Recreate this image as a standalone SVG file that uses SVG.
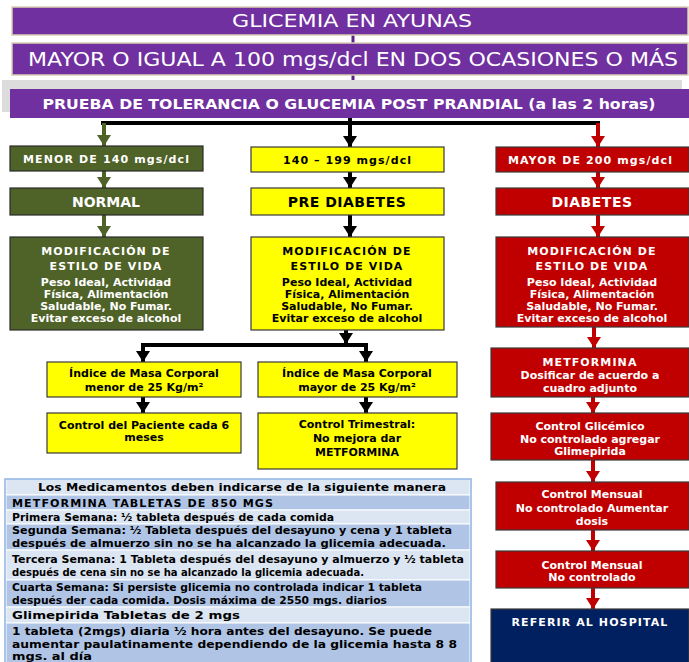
<svg xmlns="http://www.w3.org/2000/svg" width="689" height="662" viewBox="0 0 689 662">
<defs>
<style>
.bar{fill:#7030a0;stroke:#d9d0b4;stroke-width:1.5}
.g{fill:#4f6228;stroke:#2b2b2b;stroke-width:1.2}
.y{fill:#ffff00;stroke:#3a3a3a;stroke-width:1.2}
.r{fill:#c00000;stroke:#3a3a3a;stroke-width:1.2}
.n{fill:#002060;stroke:#3a3a3a;stroke-width:1.2}
text{font-family:"DejaVu Sans","Verdana",sans-serif;text-anchor:middle}
.w{fill:#ffffff}
.k{fill:#000000}
.b{font-weight:bold}
.s{font-size:11px;font-weight:bold}
.h{font-size:11px;font-weight:bold;letter-spacing:1.1px}
.t{font-size:10.5px;font-weight:bold;fill:#000;text-anchor:start}
.lt{fill:#dce6f2;stroke:#ffffff;stroke-width:1}
.md{fill:#b0c5e6;stroke:#ffffff;stroke-width:1}
.cg{stroke:#4f6228;stroke-width:4;fill:none}
.ck{stroke:#000000;stroke-width:4;fill:none}
.cr{stroke:#c00000;stroke-width:4;fill:none}
.cp{stroke:#5b2386;stroke-width:3;fill:none}
</style>
<marker id="ag" viewBox="0 0 11 14" refX="11" refY="7" markerWidth="11" markerHeight="14" markerUnits="userSpaceOnUse" orient="auto"><path d="M0,0 L11,7 L0,14 z" fill="#4f6228"/></marker>
<marker id="ak" viewBox="0 0 11 14" refX="11" refY="7" markerWidth="11" markerHeight="14" markerUnits="userSpaceOnUse" orient="auto"><path d="M0,0 L11,7 L0,14 z" fill="#000000"/></marker>
<marker id="ar" viewBox="0 0 11 14" refX="11" refY="7" markerWidth="11" markerHeight="14" markerUnits="userSpaceOnUse" orient="auto"><path d="M0,0 L11,7 L0,14 z" fill="#c00000"/></marker>
</defs>
<rect width="689" height="662" fill="#ffffff"/>

<g id="connectors">
<path class="cp" d="M353,35 V43"/>
<path class="cp" d="M353,75 V89"/>
<path class="ck" d="M350,118 V123 M101,123 H600"/>
<path class="cg" d="M104,123 V146" marker-end="url(#ag)"/>
<path class="ck" d="M350,123 V147" marker-end="url(#ak)"/>
<path class="cr" d="M598,123 V147" marker-end="url(#ar)"/>
<path class="cg" d="M104,171 V188" marker-end="url(#ag)"/>
<path class="ck" d="M350,172 V188" marker-end="url(#ak)"/>
<path class="cr" d="M598,172 V188" marker-end="url(#ar)"/>
<path class="cg" d="M104,215 V237" marker-end="url(#ag)"/>
<path class="ck" d="M350,215 V237" marker-end="url(#ak)"/>
<path class="cr" d="M598,215 V237" marker-end="url(#ar)"/>
<path class="ck" d="M346,330 V344" marker-end="url(#ak)"/>
<path class="ck" d="M141,345 H368"/>
<path class="ck" d="M143,345 V362" marker-end="url(#ak)"/>
<path class="ck" d="M366,345 V362" marker-end="url(#ak)"/>
<path class="ck" d="M143,397 V413" marker-end="url(#ak)"/>
<path class="ck" d="M366,397 V413" marker-end="url(#ak)"/>
<path class="cr" d="M594,327 V348" marker-end="url(#ar)"/>
<path class="cr" d="M593,397 V413" marker-end="url(#ar)"/>
<path class="cr" d="M593,460 V482" marker-end="url(#ar)"/>
<path class="cr" d="M593,530 V551" marker-end="url(#ar)"/>
<path class="cr" d="M593,588 V609" marker-end="url(#ar)"/>
</g>

<g id="glicemia-ayunas">
<rect class="bar" x="12" y="7" width="676" height="28"/>
<text class="w" x="352" y="27" font-size="17" textLength="240" lengthAdjust="spacingAndGlyphs">GLICEMIA EN AYUNAS</text>
</g>
<g id="mayor-igual-100">
<rect class="bar" x="12" y="43" width="676" height="32"/>
<text class="w" x="353" y="66" font-size="20" textLength="650" lengthAdjust="spacingAndGlyphs">MAYOR O IGUAL A 100 mgs/dcl EN DOS OCASIONES O MÁS</text>
</g>
<g id="prueba-tolerancia">
<rect x="2" y="80" width="680" height="32" fill="#dcdcdc"/>
<rect x="10" y="89" width="679" height="29" fill="#7030a0"/>
<text class="w b" x="349" y="109" font-size="14" textLength="613" lengthAdjust="spacingAndGlyphs">PRUEBA DE TOLERANCIA O GLUCEMIA POST PRANDIAL (a las 2 horas)</text>
</g>

<g id="menor-140">
<rect class="g" x="10" y="146" width="193" height="25"/>
<text class="w s" x="106" y="163" textLength="166" lengthAdjust="spacing">MENOR DE 140 mgs/dcl</text>
</g>
<g id="rango-140-199">
<rect class="y" x="251" y="147" width="193" height="25"/>
<text class="k s" x="347" y="164" textLength="128" lengthAdjust="spacing">140 – 199 mgs/dcl</text>
</g>
<g id="mayor-200">
<rect class="r" x="496" y="147" width="193" height="25"/>
<text class="w s" x="590" y="164" textLength="164" lengthAdjust="spacing">MAYOR DE 200 mgs/dcl</text>
</g>

<g id="normal">
<rect class="g" x="10" y="188" width="193" height="27"/>
<text class="w b" x="106" y="207" font-size="14">NORMAL</text>
</g>
<g id="pre-diabetes">
<rect class="y" x="251" y="188" width="193" height="27"/>
<text class="k b" x="347" y="207" font-size="14" letter-spacing="0.5">PRE DIABETES</text>
</g>
<g id="diabetes">
<rect class="r" x="496" y="188" width="193" height="27"/>
<text class="w b" x="592" y="207" font-size="14" letter-spacing="0.5">DIABETES</text>
</g>

<g id="estilo-vida-normal">
<rect class="g" x="10" y="237" width="193" height="93"/>
<text class="w h" x="106" y="255">MODIFICACIÓN DE</text>
<text class="w h" x="106" y="270">ESTILO DE VIDA</text>
<text class="w s" x="106" y="286">Peso Ideal, Actividad</text>
<text class="w s" x="106" y="298">Física, Alimentación</text>
<text class="w s" x="106" y="310">Saludable, No Fumar.</text>
<text class="w s" x="106" y="322">Evitar exceso de alcohol</text>
</g>
<g id="estilo-vida-pre">
<rect class="y" x="251" y="237" width="193" height="93"/>
<text class="k h" x="347" y="255">MODIFICACIÓN DE</text>
<text class="k h" x="347" y="270">ESTILO DE VIDA</text>
<text class="k s" x="347" y="286">Peso Ideal, Actividad</text>
<text class="k s" x="347" y="298">Física, Alimentación</text>
<text class="k s" x="347" y="310">Saludable, No Fumar.</text>
<text class="k s" x="347" y="322">Evitar exceso de alcohol</text>
</g>
<g id="estilo-vida-diabetes">
<rect class="r" x="496" y="237" width="193" height="90"/>
<text class="w h" x="592" y="255">MODIFICACIÓN DE</text>
<text class="w h" x="592" y="270">ESTILO DE VIDA</text>
<text class="w s" x="592" y="286">Peso Ideal, Actividad</text>
<text class="w s" x="592" y="298">Física, Alimentación</text>
<text class="w s" x="592" y="310">Saludable, No Fumar.</text>
<text class="w s" x="592" y="322">Evitar exceso de alcohol</text>
</g>

<g id="imc-menor">
<rect class="y" x="47" y="362" width="194" height="35"/>
<text class="k s" x="144" y="377">Índice de Masa Corporal</text>
<text class="k s" x="144" y="391">menor de 25 Kg/m²</text>
</g>
<g id="imc-mayor">
<rect class="y" x="258" y="362" width="199" height="35"/>
<text class="k s" x="357" y="377">Índice de Masa Corporal</text>
<text class="k s" x="357" y="391">mayor de 25 Kg/m²</text>
</g>
<g id="control-6-meses">
<rect class="y" x="47" y="413" width="194" height="40"/>
<text class="k s" x="144" y="429">Control del Paciente cada 6</text>
<text class="k s" x="144" y="441">meses</text>
</g>
<g id="control-trimestral">
<rect class="y" x="258" y="413" width="199" height="56"/>
<text class="k s" x="357" y="428">Control Trimestral:</text>
<text class="k s" x="357" y="442">No mejora dar</text>
<text class="k s" x="357" y="456">METFORMINA</text>
</g>

<g id="metformina">
<rect class="r" x="491" y="348" width="198" height="49"/>
<text class="w h" x="590" y="366">METFORMINA</text>
<text class="w s" x="590" y="379">Dosificar de acuerdo a</text>
<text class="w s" x="590" y="392">cuadro adjunto</text>
</g>
<g id="control-glicemico">
<rect class="r" x="491" y="413" width="198" height="47"/>
<text class="w s" x="590" y="430">Control Glicémico</text>
<text class="w s" x="590" y="443">No controlado agregar</text>
<text class="w s" x="590" y="455">Glimepirida</text>
</g>
<g id="control-mensual-1">
<rect class="r" x="496" y="482" width="193" height="48"/>
<text class="w s" x="592" y="498">Control Mensual</text>
<text class="w s" x="592" y="512">No controlado Aumentar</text>
<text class="w s" x="592" y="525">dosis</text>
</g>
<g id="control-mensual-2">
<rect class="r" x="496" y="551" width="193" height="37"/>
<text class="w s" x="592" y="569">Control Mensual</text>
<text class="w s" x="592" y="581">No controlado</text>
</g>
<g id="referir-hospital">
<rect class="n" x="491" y="609" width="198" height="55"/>
<text class="w h" x="590" y="626" letter-spacing="1.4">REFERIR AL HOSPITAL</text>
</g>

<g id="tabla-medicamentos">
<rect class="lt" x="6" y="479" width="464" height="16"/>
<rect class="md" x="6" y="495" width="464" height="15"/>
<rect class="lt" x="6" y="510" width="464" height="14"/>
<rect class="md" x="6" y="524" width="464" height="26"/>
<rect class="lt" x="6" y="550" width="464" height="30"/>
<rect class="md" x="6" y="580" width="464" height="27"/>
<rect class="lt" x="6" y="607" width="464" height="16"/>
<rect class="md" x="6" y="623" width="464" height="42"/>
<rect x="5" y="479" width="466" height="186" fill="none" stroke="#8db3e2" stroke-width="1.5"/>
<text class="t" x="242" y="491" style="text-anchor:middle;font-size:11px" textLength="408" lengthAdjust="spacingAndGlyphs">Los Medicamentos deben indicarse de la siguiente manera</text>
<text class="t" x="12" y="507" textLength="262" lengthAdjust="spacingAndGlyphs" letter-spacing="1">METFORMINA TABLETAS DE 850 MGS</text>
<text class="t" x="12" y="521" textLength="322" lengthAdjust="spacingAndGlyphs">Primera Semana: ½ tableta después de cada comida</text>
<text class="t" x="12" y="534" textLength="440" lengthAdjust="spacingAndGlyphs">Segunda Semana: ½ Tableta después del desayuno y cena y 1 tableta</text>
<text class="t" x="12" y="547" textLength="434" lengthAdjust="spacingAndGlyphs">después de almuerzo sin no se ha alcanzado la glicemia adecuada.</text>
<text class="t" x="12" y="563" textLength="452" lengthAdjust="spacingAndGlyphs">Tercera Semana: 1 Tableta después del desayuno y almuerzo y ½ tableta</text>
<text class="t" x="12" y="576" textLength="352" lengthAdjust="spacingAndGlyphs">después de cena sin no se ha alcanzado la glicemia adecuada.</text>
<text class="t" x="12" y="591" textLength="410" lengthAdjust="spacingAndGlyphs">Cuarta Semana: Si persiste glicemia no controlada indicar 1 tableta</text>
<text class="t" x="12" y="604" textLength="375" lengthAdjust="spacingAndGlyphs">después der cada comida. Dosis máxima de 2550 mgs. diarios</text>
<text class="t" x="12" y="619" textLength="228" lengthAdjust="spacingAndGlyphs">Glimepirida Tabletas de 2 mgs</text>
<text class="t" x="12" y="635" textLength="420" lengthAdjust="spacingAndGlyphs">1 tableta (2mgs) diaria ½ hora antes del desayuno. Se puede</text>
<text class="t" x="12" y="648" textLength="445" lengthAdjust="spacingAndGlyphs">aumentar paulatinamente dependiendo de la glicemia hasta 8 8</text>
<text class="t" x="12" y="660" textLength="80" lengthAdjust="spacingAndGlyphs">mgs. al día</text>
</g>
</svg>
